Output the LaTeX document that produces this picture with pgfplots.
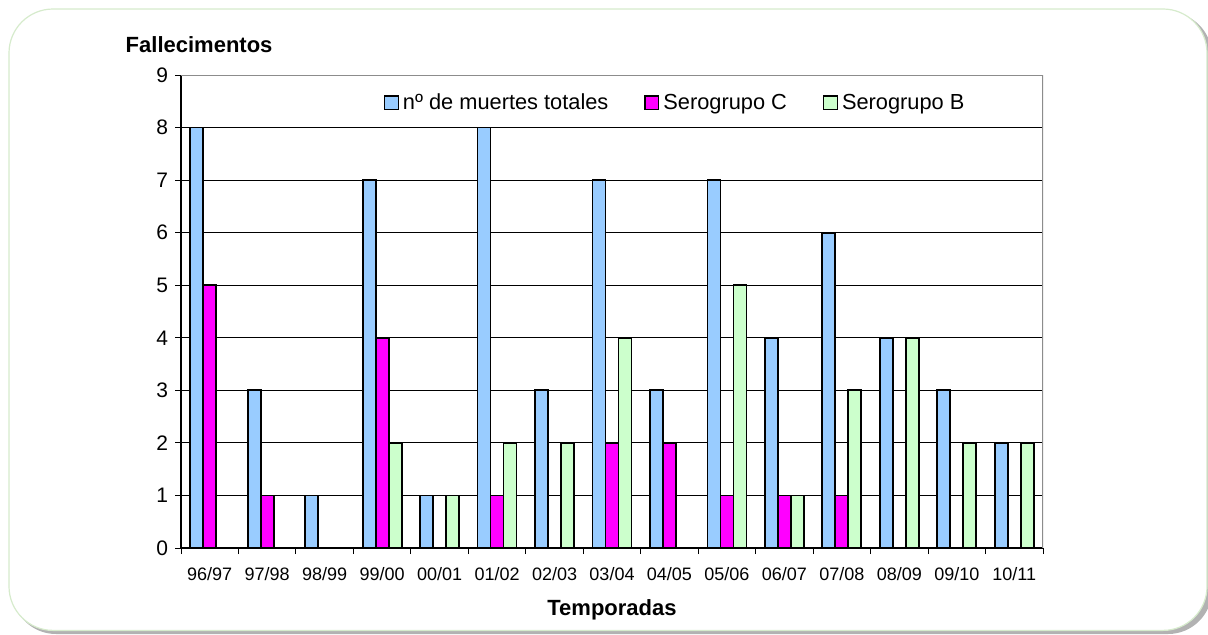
\documentclass[border=0pt]{standalone}
\usepackage{pgfplots}
\pgfplotsset{compat=1.18}
\usepackage{fontspec}
\setmainfont{Liberation Sans}

\definecolor{totblue}{HTML}{99CCFF}
\definecolor{serC}{HTML}{FF00FF}
\definecolor{serB}{HTML}{CCFFCC}
\definecolor{framegreen}{HTML}{D6EBCC}

\begin{document}
\begin{tikzpicture}
  % page size and rounded panel
  \path[use as bounding box] (0pt,0pt) rectangle (604pt,317pt);
  \begin{scope}
    \clip (0pt,0pt) rectangle (604pt,317pt);
    \fill[black!30, rounded corners=22pt] (6pt,0pt) rectangle (606pt,311pt);
    \fill[white, draw=framegreen, line width=0.6pt, rounded corners=22pt] (4.5pt,1.8pt) rectangle (603.5pt,312.5pt);
  \end{scope}

  \begin{axis}[
    at={(90.5pt,43pt)}, anchor=south west,
    scale only axis,
    width=431pt, height=236.5pt,
    ybar=0pt, bar width=6.5pt,
    xmin=-0.5, xmax=14.5,
    ymin=0, ymax=9,
    xtick={0,...,14},
    xticklabels={96/97,97/98,98/99,99/00,00/01,01/02,02/03,03/04,04/05,05/06,06/07,07/08,08/09,09/10,10/11},
    minor xtick={-0.5,0.5,...,14.5},
    ytick={0,...,9},
    major x tick style={draw=none},
    minor tick length=3pt,
    major tick length=3pt,
    tick align=outside,
    tick style={black, line width=0.5pt},
    axis x line*=bottom, axis y line*=left,
    axis line style={black, line width=0.6pt, -},
    ymajorgrids,
    grid style={black, line width=0.5pt},
    yticklabel style={font=\fontsize{10.5}{12}\selectfont},
    xticklabel style={font=\fontsize{9}{11}\selectfont, yshift=-3pt},
    /pgf/number format/assume math mode=true,
    xlabel={Temporadas},
    xlabel style={font=\bfseries\fontsize{11}{13}\selectfont, yshift=-3pt},
    ylabel={Fallecimentos},
    every axis y label/.style={at={(rel axis cs:0.021,1)}, anchor=base, yshift=11.5pt, font=\bfseries\fontsize{11}{13}\selectfont},
    legend style={at={(rel axis cs:0.228,0.941)}, anchor=west, draw=none, fill=none,
      legend columns=3, font=\fontsize{10.9}{13}\selectfont,
      /tikz/every even column/.append style={column sep=16pt}},
    legend image code/.code={\draw[#1, draw=black, line width=0.7pt] (0pt,-3.4pt) rectangle (6.8pt,3.4pt);},
    legend cell align=left,
    every axis plot/.append style={draw=black, line width=0.9pt},
  ]
    \draw[black!45, line width=0.6pt] (rel axis cs:0,1) -- (rel axis cs:1,1) -- (rel axis cs:1,0);
    % total deaths per season
    \addplot[fill=totblue] coordinates {
      (0,8) (1,3) (2,1) (3,7) (4,1) (5,8) (6,3) (7,7) (8,3) (9,7) (10,4) (11,6) (12,4) (13,3) (14,2)};
    % serogroup C
    \addplot[fill=serC] coordinates {
      (0,5) (1,1) (3,4) (5,1) (7,2) (8,2) (9,1) (10,1) (11,1)};
    % serogroup B
    \addplot[fill=serB] coordinates {
      (3,2) (4,1) (5,2) (6,2) (7,4) (9,5) (10,1) (11,3) (12,4) (13,2) (14,2)};
    \legend{n\textordmasculine{} de muertes totales, Serogrupo C, Serogrupo B}
  \end{axis}
\end{tikzpicture}
\end{document}
